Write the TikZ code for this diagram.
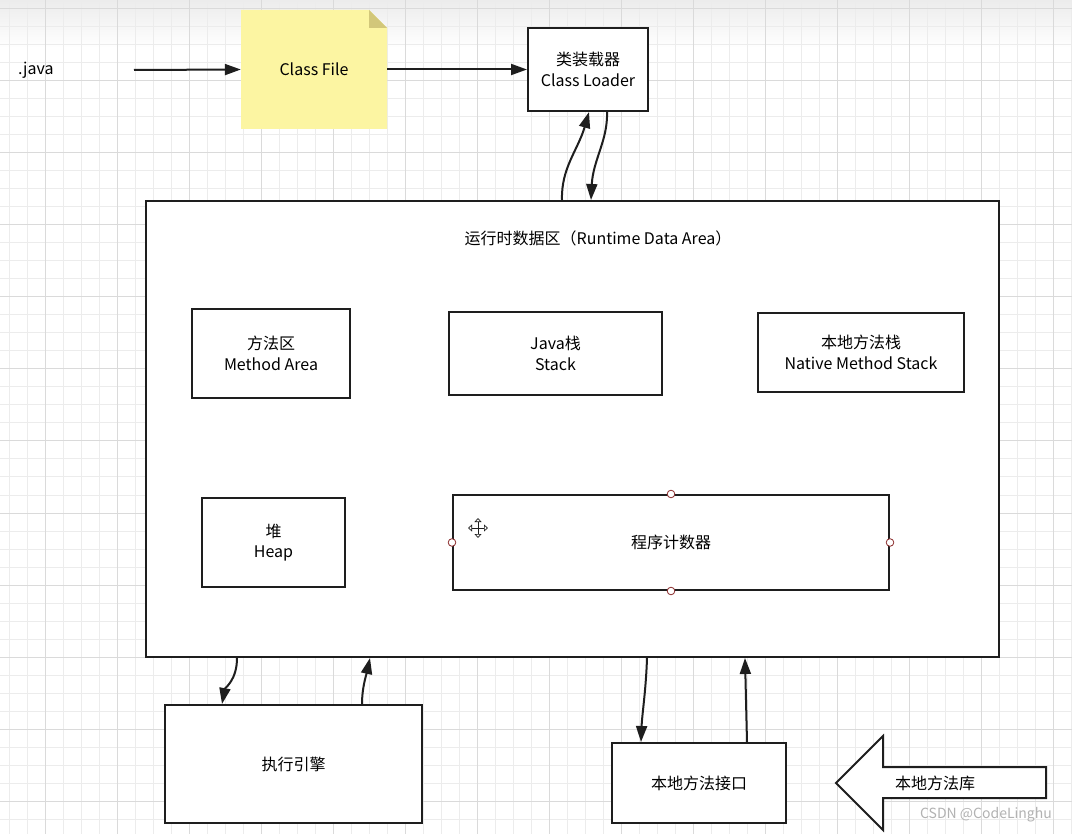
\documentclass[tikz,border=0pt]{standalone}
\usepackage{fontspec}
\setmainfont{Noto Sans CJK SC}
\usetikzlibrary{arrows.meta}
\definecolor{gridminor}{HTML}{ECECEC}
\definecolor{gridmajor}{HTML}{DADADA}
\definecolor{notefill}{HTML}{FCF5A2}
\definecolor{notefold}{HTML}{D2C77A}
\definecolor{ink}{HTML}{1E1E1E}
\definecolor{handlered}{HTML}{8A2B2B}
\begin{document}
\begin{tikzpicture}[x=1pt, y=-1pt,
    box/.style={draw=ink, line width=2pt, fill=white, inner sep=0pt, align=center,
        font=\fontsize{16}{20.5}\selectfont},
    label/.style={inner sep=0pt, font=\fontsize{16}{20.5}\selectfont},
    arr/.style={draw=ink, line width=2pt, -{Triangle[length=16pt,width=11pt]}},
    handle/.style={draw=handlered, fill=white, line width=0.8pt}]
    \useasboundingbox (0,0) rectangle (1072,834);

    % Background grid
    \fill[white] (0,0) rectangle (1072,834);
    \shade[top color=gridminor, bottom color=white] (0,0) rectangle (1072,48);
    \foreach \x in {9,27,...,1071} \draw[gridminor, line width=1pt] (\x,0) -- (\x,834);
    \foreach \y in {9,27,...,833} \draw[gridminor, line width=1pt] (0,\y) -- (1072,\y);
    \foreach \x in {45,117,...,1071} \draw[gridmajor, line width=1pt] (\x,0) -- (\x,834);
    \foreach \y in {9,81,...,833} \draw[gridmajor, line width=1pt] (0,\y) -- (1072,\y);

    % Source file and class file note
    \node[label, anchor=west] (java) at (18,70) {.java};
    \coordinate (javaEnd) at (134,70);
    \fill[notefill] (241,10) -- (369,10) -- (387,28) -- (387,129) -- (241,129) -- cycle;
    \fill[notefold] (369,10) -- (387,28) -- (369,28) -- cycle;
    \node[label, minimum width=146pt, minimum height=119pt] (classfile) at (314,69.5) {Class File};

    % Class loader
    \node[box, minimum width=120pt, minimum height=83pt] (loader) at (588,69.5) {类装载器\\Class Loader};

    % Runtime data area and its parts
    \node[box, minimum width=853pt, minimum height=456pt] (runtime) at (572.5,429) {};
    \node[label] (rttitle) at (598,238) {运行时数据区（Runtime Data Area）};
    \node[box, minimum width=158pt, minimum height=89pt] (method) at (271,353.5) {方法区\\Method Area};
    \node[box, minimum width=213pt, minimum height=83pt] (stack) at (555.5,353.5) {Java栈\\Stack};
    \node[box, minimum width=206pt, minimum height=79pt] (nstack) at (861,352.5) {本地方法栈\\Native Method Stack};
    \node[box, minimum width=143pt, minimum height=89pt] (heap) at (273.5,542.5) {堆\\Heap};
    \node[box, minimum width=436pt, minimum height=95pt] (pc) at (671,542.5) {程序计数器};

    % Selection handles and move cursor on the counter box
    \foreach \p in {north, south, east, west}
        \draw[handle] (pc.\p) circle (3.8pt);
    \foreach \a in {0,90,180,270}
        \draw[ink, line width=0.7pt, -{Triangle[open,length=4pt,width=7pt]}] (478,528) -- ++(\a:10);

    % Execution engine and native interface
    \node[box, minimum width=257pt, minimum height=118pt] (exec) at (293.5,764) {执行引擎};
    \node[box, minimum width=174pt, minimum height=80pt] (jni) at (699,783) {本地方法接口};

    % Native library (hollow arrow)
    \draw[ink, line width=2pt, fill=white, line join=miter]
        (836,783) -- (883,736) -- (883,767) -- (1046,767) -- (1046,798) -- (883,798) -- (883,830) -- cycle;
    \node[label] (nlib) at (935,783) {本地方法库};

    % Connectors
    \draw[arr] (javaEnd) -- (classfile.west);
    \draw[arr] (classfile.east) -- (loader.west);
    \draw[arr] (runtime.north -| 562,0) .. controls (561,168) and (578,150) .. (loader.south -| 589,0);
    \draw[arr] (loader.south -| 607,0) .. controls (608,140) and (593,160) .. (runtime.north -| 591,0);
    \draw[arr] (runtime.south -| 237,0) .. controls (237,680) and (225,688) .. (exec.north -| 222,0);
    \draw[arr] (exec.north -| 362,0) .. controls (362,688) and (366,676) .. (runtime.south -| 370,0);
    \draw[arr] (runtime.south -| 647,0) .. controls (646,690) and (642,715) .. (jni.north -| 641,0);
    \draw[arr] (jni.north -| 747,0) -- (runtime.south -| 745,0);

    % Watermark
    \node[inner sep=0pt, text=gray!60, font=\fontsize{14}{17}\selectfont] (mark) at (986,815) {CSDN @CodeLinghu};
\end{tikzpicture}
\end{document}
